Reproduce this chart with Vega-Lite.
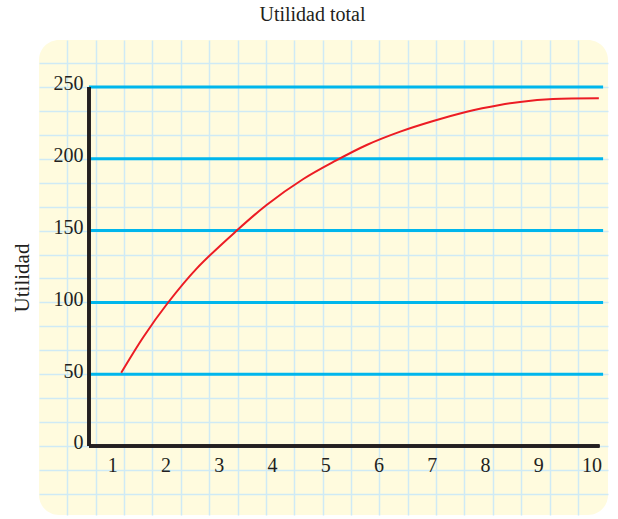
{
  "$schema": "https://vega.github.io/schema/vega-lite/v6.json",
  "width": 569,
  "height": 475,
  "autosize": {"type": "none"},
  "padding": {"left": 39, "top": 40, "right": 10, "bottom": 4},
  "background": "white",
  "title": {
    "text": "Utilidad total",
    "font": "Liberation Serif",
    "fontSize": 20,
    "fontWeight": "normal",
    "color": "#231F20",
    "anchor": "middle",
    "frame": "group",
    "dx": -11,
    "offset": -1,
    "baseline": "alphabetic"
  },
  "config": {
    "view": {"fill": "#FFFBDE", "stroke": null, "cornerRadius": 20},
    "axis": {
      "labelFont": "Liberation Serif",
      "labelFontSize": 20,
      "labelColor": "#231F20",
      "titleFont": "Liberation Serif",
      "titleFontSize": 21,
      "titleFontWeight": "normal",
      "titleColor": "#231F20",
      "domain": false,
      "ticks": false,
      "tickSize": 0,
      "grid": false
    }
  },
  "datasets": {
    "curva": [
      {"cantidad": 1.17, "utilidad": 51.0},
      {"cantidad": 1.59, "utilidad": 76.1},
      {"cantidad": 2.04, "utilidad": 99.4},
      {"cantidad": 2.59, "utilidad": 123.7},
      {"cantidad": 3.34, "utilidad": 150.0},
      {"cantidad": 3.90, "utilidad": 167.8},
      {"cantidad": 4.59, "utilidad": 185.9},
      {"cantidad": 5.19, "utilidad": 198.5},
      {"cantidad": 5.78, "utilidad": 209.6},
      {"cantidad": 6.41, "utilidad": 218.9},
      {"cantidad": 7.03, "utilidad": 226.3},
      {"cantidad": 7.66, "utilidad": 232.8},
      {"cantidad": 8.28, "utilidad": 237.5},
      {"cantidad": 8.66, "utilidad": 239.6},
      {"cantidad": 9.28, "utilidad": 241.6},
      {"cantidad": 10.14, "utilidad": 242.1}
    ],
    "niveles": [
      {"nivel": 50}, {"nivel": 100}, {"nivel": 150}, {"nivel": 200}, {"nivel": 250}
    ]
  },
  "resolve": {"axis": {"x": "independent", "y": "independent"}},
  "layer": [
    {
      "data": {"name": "niveles"},
      "mark": {"type": "rule", "color": "#00B6EC", "strokeWidth": 3},
      "encoding": {
        "y": {
          "field": "nivel",
          "type": "quantitative",
          "scale": {"domain": [-48.05, 282.7], "nice": false, "zero": false},
          "axis": {
            "orient": "left",
            "values": [-33.333, -16.667, 0, 16.667, 33.333, 50, 66.667, 83.333, 100, 116.667, 133.333, 150, 166.667, 183.333, 200, 216.667, 233.333, 250, 266.667],
            "grid": true,
            "gridColor": "#CFEAF5",
            "gridWidth": 1.5,
            "labels": false,
            "title": "Utilidad",
            "titlePadding": 7
          }
        },
        "x": {
          "datum": 0.565,
          "type": "quantitative",
          "scale": {"domain": [-0.374, 10.312], "nice": false, "zero": false},
          "axis": {
            "orient": "bottom",
            "values": [0.156, 0.689, 1.222, 1.755, 2.288, 2.821, 3.354, 3.887, 4.420, 4.953, 5.486, 6.019, 6.551, 7.084, 7.617, 8.150, 8.683, 9.216, 9.749],
            "grid": true,
            "gridColor": "#CFEAF5",
            "gridWidth": 1.5,
            "labels": false,
            "title": null
          }
        },
        "x2": {"datum": 10.22}
      }
    },
    {
      "data": {"name": "niveles"},
      "mark": {"type": "rule", "color": "#231F20", "strokeWidth": 3},
      "encoding": {
        "x": {"datum": 0.565, "type": "quantitative", "axis": null},
        "y": {"datum": 0, "type": "quantitative", "axis": null},
        "y2": {"datum": 250}
      }
    },
    {
      "data": {"name": "niveles"},
      "mark": {"type": "rule", "color": "#231F20", "strokeWidth": 3},
      "encoding": {
        "x": {"datum": 0.565, "type": "quantitative", "axis": null},
        "x2": {"datum": 10.15},
        "y": {"datum": 0, "type": "quantitative", "axis": null}
      }
    },
    {
      "data": {"name": "curva"},
      "mark": {"type": "line", "color": "#EC1C24", "strokeWidth": 2, "interpolate": "catmull-rom"},
      "encoding": {
        "x": {
          "field": "cantidad",
          "type": "quantitative",
          "axis": {
            "orient": "bottom",
            "values": [1, 2, 3, 4, 5, 6, 7, 8, 9, 10],
            "format": "d",
            "offset": -69,
            "labelPadding": 9,
            "title": null
          }
        },
        "y": {
          "field": "utilidad",
          "type": "quantitative",
          "axis": {
            "orient": "left",
            "values": [0, 50, 100, 150, 200, 250],
            "format": "d",
            "offset": -50,
            "labelPadding": 6,
            "labelBaseline": "alphabetic",
            "labelOffset": 3,
            "title": null
          }
        }
      }
    }
  ]
}
